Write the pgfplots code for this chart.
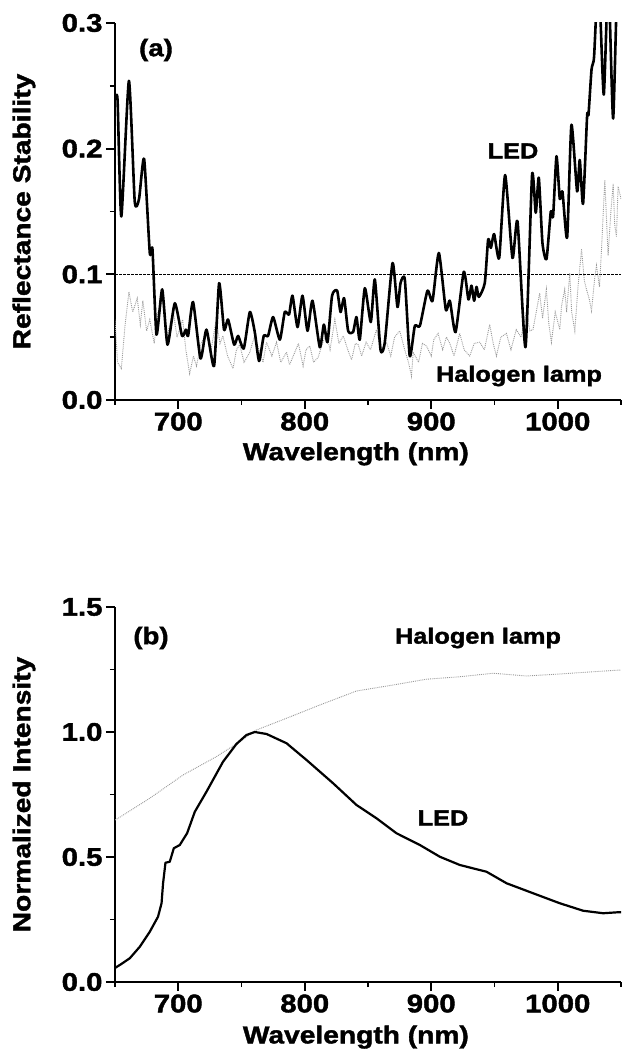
\documentclass[border=0pt]{standalone}
\usepackage{pgfplots}
\pgfplotsset{compat=1.18}
\usepackage{fontspec}
\setmainfont{Liberation Sans Bold}[FakeStretch=1.15, FakeBold=1.6]
\pgfplotstableread{
x y
650 0.239
652 0.239
655 0.146
661 0.254
665.6 0.158
669 0.160
673 0.192
677.5 0.117
679.6 0.120
682.8 0.052
687.3 0.088
691.5 0.044
697.3 0.077
703 0.051
706 0.056
707.8 0.051
711.7 0.078
717.6 0.033
722.3 0.056
728.3 0.027
732.3 0.093
736.2 0.056
739.4 0.064
744.2 0.044
747.3 0.051
751.8 0.041
756.6 0.070
760.5 0.054
763.9 0.031
767.6 0.051
771 0.051
775 0.066
780.3 0.048
784.2 0.070
787.6 0.068
790.3 0.083
794.3 0.058
798.2 0.083
802.2 0.055
806.1 0.079
811.9 0.042
815.1 0.060
818 0.046
821.6 0.083
825.6 0.087
828.3 0.070
831.1 0.081
834.3 0.055
838.2 0.054
840.9 0.066
843.5 0.048
847.5 0.089
852.2 0.062
855.4 0.096
859.9 0.040
863.3 0.046
869.4 0.109
873.3 0.074
875.7 0.093
879.1 0.096
883 0.035
887 0.059
891 0.059
897 0.087
901 0.079
906 0.117
911.5 0.072
914.7 0.079
919.2 0.054
925.7 0.102
929.4 0.080
931.8 0.091
933.9 0.079
935.8 0.090
937.6 0.082
942.3 0.093
945 0.128
947.1 0.121
949.7 0.132
953.7 0.113
958.4 0.179
964.2 0.113
968.2 0.142
974.5 0.042
979.7 0.179
982.6 0.149
985 0.177
987.9 0.125
991.1 0.112
994.5 0.150
996.3 0.146
999 0.194
1001.6 0.160
1003.7 0.166
1007.4 0.129
1010.8 0.219
1015.3 0.166
1017.4 0.191
1020 0.156
1023.2 0.226
1024.3 0.227
1026.7 0.263
1028.7 0.273
1031.5 0.33
1033.5 0.31
1036.4 0.243
1039.5 0.33
1041 0.31
1043.8 0.224
1047 0.33
1050 0.33
}\ledA
\pgfplotstableread{
x y
650 0.064
652 0.030
655 0.025
658 0.060
661 0.086
664 0.070
667.6 0.081
670 0.060
672 0.079
675 0.055
677.5 0.064
681 0.045
684 0.070
688 0.080
691 0.050
696 0.071
699 0.050
703.5 0.064
706 0.040
709 0.021
712 0.035
714.4 0.027
718 0.045
722.3 0.053
726 0.040
730 0.064
733 0.045
735.3 0.051
739 0.035
743.3 0.025
746 0.040
748.6 0.044
752 0.030
756.6 0.038
760 0.050
764.5 0.038
767 0.030
769.8 0.046
774 0.035
777.7 0.046
781 0.030
785.6 0.038
788 0.028
790.9 0.035
795 0.045
798.7 0.027
801 0.040
804 0.043
807 0.030
810.6 0.034
814 0.045
817.2 0.053
820 0.040
823.8 0.064
827 0.045
830.5 0.051
834 0.040
837 0.032
840 0.045
842.3 0.044
845 0.035
848.5 0.046
852 0.040
856.7 0.056
860 0.040
864.6 0.046
868 0.035
871 0.050
875.1 0.055
879 0.040
882 0.030
884.4 0.019
885.7 0.038
890 0.030
893 0.045
896.2 0.043
900 0.035
902 0.048
905.4 0.053
909 0.040
912 0.050
914.7 0.045
918 0.035
922.5 0.053
926 0.040
930.4 0.035
934 0.045
938.3 0.046
942 0.040
946.2 0.060
949 0.045
951.5 0.035
955 0.050
959.4 0.053
963 0.040
967.2 0.056
971 0.050
975.2 0.070
978 0.055
980.4 0.056
983 0.070
985.7 0.085
988 0.065
991 0.088
993 0.060
995 0.046
998 0.070
1001.6 0.056
1003 0.075
1005.5 0.088
1007 0.070
1009.5 0.101
1011 0.070
1013.5 0.055
1016 0.090
1018.8 0.120
1021 0.095
1022.7 0.088
1025 0.080
1026.7 0.071
1029 0.095
1030.6 0.107
1033 0.090
1034.6 0.120
1036 0.150
1037.2 0.175
1039.8 0.115
1042 0.150
1043.8 0.172
1045 0.140
1046.4 0.130
1047.7 0.170
1050 0.160
}\halA
\pgfplotstableread{
x y
650 0.056
655 0.072
661.7 0.095
669.6 0.141
677.5 0.201
684 0.261
686.8 0.315
688 0.395
689.9 0.477
693.3 0.481
696.5 0.535
701.2 0.548
707 0.595
713.1 0.681
722.3 0.761
735.4 0.881
746 0.952
753.9 0.988
760.5 1.000
769.8 0.992
785.6 0.955
801.4 0.888
822.4 0.795
840.9 0.708
856.7 0.655
872.5 0.595
891 0.548
906.8 0.501
922.6 0.468
943.7 0.441
959.5 0.395
980.5 0.355
1001.6 0.315
1020.1 0.285
1035.9 0.275
1047.7 0.279
1050 0.279
}\ledB
\pgfplotstableread{
x y
650 0.648
652.5 0.655
677.5 0.735
703.8 0.828
730 0.901
748.6 0.961
761.8 1.008
785.6 1.055
811.9 1.108
840.9 1.164
869.9 1.188
896 1.211
922.6 1.221
949 1.235
975.2 1.224
1001.6 1.232
1028 1.241
1050 1.248
}\halB
\begin{document}
\begin{tikzpicture}
\useasboundingbox (0pt,0pt) rectangle (625pt,1059pt);
\pgfplotsset{
  myaxis/.style={
    scale only axis,
    anchor=south west,
    width=506pt,
    xmin=650, xmax=1050,
    axis lines=left,
    axis line style={-, line width=1.8pt},
    every tick/.style={black, line width=1.8pt},
    tick align=outside,
    major tick length=9pt,
    minor tick length=5pt,
    xtick={700,800,900,1000},
    minor xtick={650,750,850,950,1050},
    /pgf/number format/assume math mode=true,
    /pgf/number format/1000 sep={},
    tick label style={font=\fontsize{25.5}{25.5}\selectfont},
    label style={font=\fontsize{24.5}{24.5}\selectfont},
    xlabel={Wavelength (nm)},
  }
}
\begin{axis}[myaxis,
  at={(115pt,659pt)}, height=377pt,
  ymin=0, ymax=0.3,
  ytick={0,0.1,0.2,0.3},
  minor ytick={0.05,0.15,0.25},
  yticklabel style={/pgf/number format/.cd, fixed, fixed zerofill, precision=1},
  ylabel={Reflectance Stability},
  ylabel style={at={(axis description cs:-0.18,0.5)}, anchor=center},
  xlabel style={at={(axis description cs:0.476,-0.143)}, anchor=center},
]
\addplot[black, dash pattern=on 2.5pt off 1.5pt, line width=0.7pt] coordinates {(650,0.1) (1050,0.1)};
\addplot[gray!80, densely dotted, line width=0.9pt] table {\halA};
\addplot[black, line width=2.6pt, line join=round, smooth, tension=0.35] table {\ledA};
\end{axis}
\begin{axis}[myaxis,
  at={(115pt,77pt)}, height=375pt,
  ymin=0, ymax=1.5,
  ytick={0,0.5,1,1.5},
  minor ytick={0.25,0.75,1.25},
  yticklabel style={/pgf/number format/.cd, fixed, fixed zerofill, precision=1},
  ylabel={Normalized Intensity},
  ylabel style={at={(axis description cs:-0.18,0.5)}, anchor=center},
  xlabel style={at={(axis description cs:0.476,-0.147)}, anchor=center},
]
\addplot[gray!80, densely dotted, line width=0.9pt] table {\halB};
\addplot[black, line width=2.2pt, line join=round] table {\ledB};
\end{axis}
\begin{scope}[every node/.style={font=\fontsize{22}{22}\selectfont, inner sep=0pt}]
\node[font=\fontsize{24}{24}\selectfont] at (156pt,1009pt) {(a)};
\node at (513pt,908pt) {LED};
\node at (519pt,683pt) {Halogen lamp};
\node[font=\fontsize{24}{24}\selectfont] at (151pt,421pt) {(b)};
\node at (478pt,421pt) {Halogen lamp};
\node at (443pt,241pt) {LED};
\end{scope}
\end{tikzpicture}
\end{document}
